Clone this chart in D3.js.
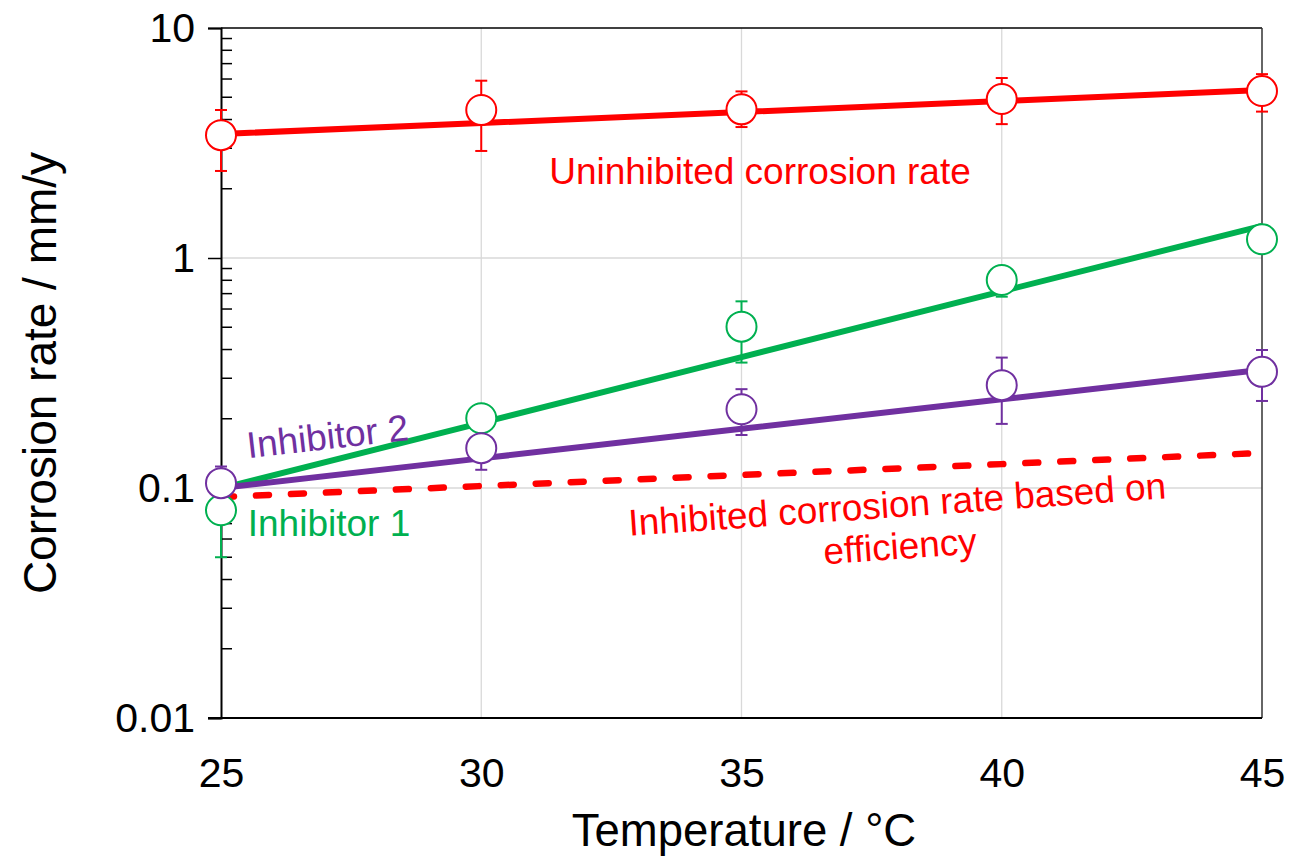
<!DOCTYPE html>
<html><head><meta charset="utf-8">
<script src="https://cdn.jsdelivr.net/npm/d3@7"></script>
<style>body{margin:0;background:#fff}svg{display:block}text{font-family:"Liberation Sans",Arial,sans-serif}</style>
</head><body>
<svg id="chart" width="1294" height="859"></svg>
<script>
const temps = [25, 30, 35, 40, 45];
const xTicks = [25, 30, 35, 40, 45];
const yTicks = [0.01, 0.1, 1, 10];
const yTickLabels = ["0.01", "0.1", "1", "10"];

// Uninhibited corrosion rate (red)
const uninhibited   = [3.42, 4.40, 4.43, 4.91, 5.32];
const uninhibitedLo = [2.39, 2.92, 3.71, 3.82, 4.33];
const uninhibitedHi = [4.40, 5.90, 5.30, 6.06, 6.30];
const uninhibitedFit = [3.46, 3.86, 4.31, 4.81, 5.37];

// Inhibitor 1 (green)
const inhibitor1   = [0.080, 0.201, 0.503, 0.802, 1.206];
const inhibitor1Lo = [0.050, 0.185, 0.351, 0.679, 1.12];
const inhibitor1Hi = [0.095, 0.215, 0.648, 0.90, 1.30];
const inhibitor1Fit = [0.0995, 0.192, 0.371, 0.716, 1.38];

// Inhibitor 2 (purple)
const inhibitor2   = [0.105, 0.149, 0.220, 0.280, 0.320];
const inhibitor2Lo = [0.095, 0.120, 0.170, 0.190, 0.239];
const inhibitor2Hi = [0.124, 0.160, 0.269, 0.369, 0.398];
const inhibitor2Fit = [0.100, 0.1345, 0.181, 0.243, 0.327];

// Inhibited corrosion rate based on efficiency (red dashed)
const efficiencyBased = [0.0914, 0.102, 0.114, 0.127, 0.142];

const svg = d3.select("#chart");
const x = d3.scaleLinear().domain([25, 45]).range([221, 1262]);
const y = d3.scaleLog().domain([0.01, 10]).range([718, 28]);

const grid = "#d9d9d9";
svg.append("g").selectAll("line").data(xTicks.slice(1, -1)).join("line")
  .attr("x1", d => x(d)).attr("x2", d => x(d)).attr("y1", y(10)).attr("y2", y(0.01))
  .attr("stroke", grid).attr("stroke-width", 1.3);
svg.append("g").selectAll("line").data([0.1, 1]).join("line")
  .attr("x1", x(25)).attr("x2", x(45)).attr("y1", d => y(d)).attr("y2", d => y(d))
  .attr("stroke", grid).attr("stroke-width", 1.3);

svg.append("line").attr("x1", x(25)).attr("x2", x(45)).attr("y1", y(10)).attr("y2", y(10))
  .attr("stroke", "#000").attr("stroke-width", 1.5);
svg.append("line").attr("x1", x(45)).attr("x2", x(45)).attr("y1", y(10)).attr("y2", y(0.01))
  .attr("stroke", "#333").attr("stroke-width", 1.5);

const yAxis = d3.axisLeft(y).tickValues(yTicks).tickFormat((d, i) => yTickLabels[i]).tickSize(13).tickPadding(13);
const gy = svg.append("g").attr("transform", `translate(${x(25)},0)`).call(yAxis);
gy.select(".domain").attr("stroke", "#000").attr("stroke-width", 2);
gy.selectAll(".tick line").attr("stroke", "#000").attr("stroke-width", 1.5);
gy.selectAll(".tick text").attr("font-size", 41).attr("fill", "#000").style("font-family", '"Liberation Sans",Arial,sans-serif');

const minor = [];
[0.01, 0.1, 1].forEach(b => { for (let k = 2; k <= 9; k++) minor.push(b * k); });
svg.append("g").selectAll("line").data(minor).join("line")
  .attr("x1", x(25)).attr("x2", x(25) + 11).attr("y1", d => y(d)).attr("y2", d => y(d))
  .attr("stroke", "#000").attr("stroke-width", 1.5);

const xAxis = d3.axisBottom(x).tickValues(xTicks).tickSize(0).tickPadding(40);
const gx = svg.append("g").attr("transform", `translate(0,${y(0.01)})`).call(xAxis);
gx.select(".domain").attr("stroke", "#000").attr("stroke-width", 2).attr("d", `M${x(25) - 13},0H${x(45)}`);
gx.selectAll(".tick text").attr("font-size", 41).attr("fill", "#000").style("font-family", '"Liberation Sans",Arial,sans-serif');

svg.append("text").attr("x", 744).attr("y", 846).attr("text-anchor", "middle")
  .attr("font-size", 45.5).text("Temperature / °C");
svg.append("text").attr("transform", "translate(56,373) rotate(-90)").attr("text-anchor", "middle")
  .attr("font-size", 46).text("Corrosion rate / mm/y");

const series = [
  {v: uninhibited, lo: uninhibitedLo, hi: uninhibitedHi, fit: uninhibitedFit, c: "#ff0000"},
  {v: inhibitor1, lo: inhibitor1Lo, hi: inhibitor1Hi, fit: inhibitor1Fit, c: "#00b050"},
  {v: inhibitor2, lo: inhibitor2Lo, hi: inhibitor2Hi, fit: inhibitor2Fit, c: "#7030a0"}
];

const line = d3.line().x((d, i) => x(temps[i])).y(d => y(d));

series.forEach(s => {
  const g = svg.append("g").attr("stroke", s.c).attr("stroke-width", 2).attr("fill", "none");
  temps.forEach((t, i) => {
    g.append("line").attr("x1", x(t)).attr("x2", x(t)).attr("y1", y(s.lo[i])).attr("y2", y(s.hi[i]));
    [s.lo[i], s.hi[i]].forEach(v => g.append("line").attr("x1", x(t) - 6).attr("x2", x(t) + 6).attr("y1", y(v)).attr("y2", y(v)));
  });
});

svg.append("path").datum(efficiencyBased).attr("d", line).attr("fill", "none")
  .attr("stroke", "#ff0000").attr("stroke-width", 6.5).attr("stroke-linecap", "round")
  .attr("stroke-dasharray", "13,22");

series.forEach(s => {
  svg.append("path").datum(s.fit).attr("d", line).attr("fill", "none")
    .attr("stroke", s.c).attr("stroke-width", 6);
});

series.forEach(s => {
  svg.append("g").selectAll("circle").data(s.v).join("circle")
    .attr("cx", (d, i) => x(temps[i])).attr("cy", d => y(d)).attr("r", 15)
    .attr("fill", "#fff").attr("stroke", s.c).attr("stroke-width", 2);
});

svg.append("text").attr("x", 760).attr("y", 184).attr("text-anchor", "middle")
  .attr("font-size", 37).attr("fill", "#ff0000").text("Uninhibited corrosion rate");
svg.append("text").attr("x", 329).attr("y", 536).attr("text-anchor", "middle")
  .attr("font-size", 37).attr("fill", "#00b050").text("Inhibitor 1");
svg.append("text").attr("transform", "translate(329,449) rotate(-6.5)").attr("text-anchor", "middle")
  .attr("font-size", 37).attr("fill", "#7030a0").text("Inhibitor 2");
const eff = svg.append("g").attr("transform", "translate(898,517) rotate(-4)")
  .attr("fill", "#ff0000").attr("font-size", 37).attr("text-anchor", "middle");
eff.append("text").attr("x", 0).attr("y", 0).text("Inhibited corrosion rate based on");
eff.append("text").attr("x", 0).attr("y", 42).text("efficiency");
</script>
</body></html>
